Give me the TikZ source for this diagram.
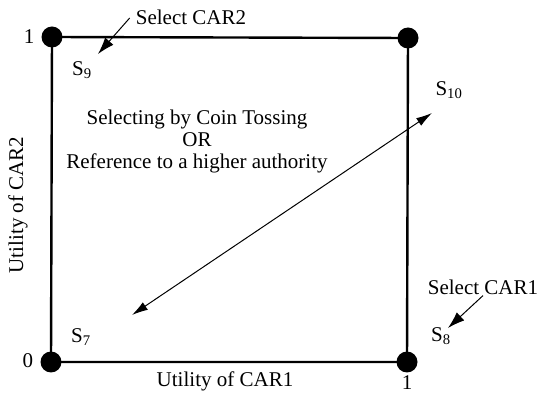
\documentclass[tikz,border=0pt]{standalone}
\usepackage{fontspec}
\setmainfont{Liberation Serif}
\usetikzlibrary{arrows.meta}
\tikzset{
  dot/.style={circle, fill=black, inner sep=0pt, minimum size=21pt},
  lbl/.style={font=\fontsize{21}{22}\selectfont, inner sep=1pt},
  pointer/.style={-{Latex[length=17pt,width=11pt]}, line width=1pt},
}
\begin{document}
\begin{tikzpicture}[x=1pt, y=-1pt]
  \useasboundingbox (0,0) rectangle (539,398);
  % corners of the utility square
  \node[dot] (c01) at (52,37) {};
  \node[dot] (c11) at (408,38) {};
  \node[dot] (c10) at (407,362) {};
  \node[dot] (c00) at (51,362) {};
  \draw[line width=2.4pt] (c01.center) -- (c11.center) -- (c10.center) -- (c00.center) -- cycle;

  % axis ticks and titles
  \node[lbl] (ytop) at (29,37) {1};
  \node[lbl] (yzero) at (28,361) {0};
  \node[lbl] (xone) at (407,383) {1};
  \node[lbl] (xtitle) at (225,381) {Utility of CAR1};
  \node[lbl, rotate=90] (ytitle) at (18,205) {Utility of CAR2};

  % states
  \node[lbl] (s9) at (82,70) {S\textsubscript{9}};
  \node[lbl] (s10) at (449,90) {S\textsubscript{10}};
  \node[lbl] (s7) at (81,337) {S\textsubscript{7}};
  \node[lbl] (s8) at (441,336) {S\textsubscript{8}};

  \node[lbl, align=center] (rule) at (197,141) {Selecting by Coin Tossing\\OR\\Reference to a higher authority};

  % selections
  \node[lbl] (selcar2) at (191,17) {Select CAR2};
  \node[lbl] (selcar1) at (483,287) {Select CAR1};
  \coordinate (tip9) at (98,54);
  \coordinate (tip8) at (448,328);
  \draw[pointer] (selcar2.west) ++(-5,1) -- (tip9);
  \draw[pointer] (selcar1.south) -- (tip8);

  \coordinate (diaglo) at (132,315);
  \coordinate (diaghi) at (432,113);
  \draw[{Latex[length=16pt,width=9pt]}-{Latex[length=16pt,width=9pt]}, line width=1pt] (diaglo) -- (diaghi);
\end{tikzpicture}
\end{document}
